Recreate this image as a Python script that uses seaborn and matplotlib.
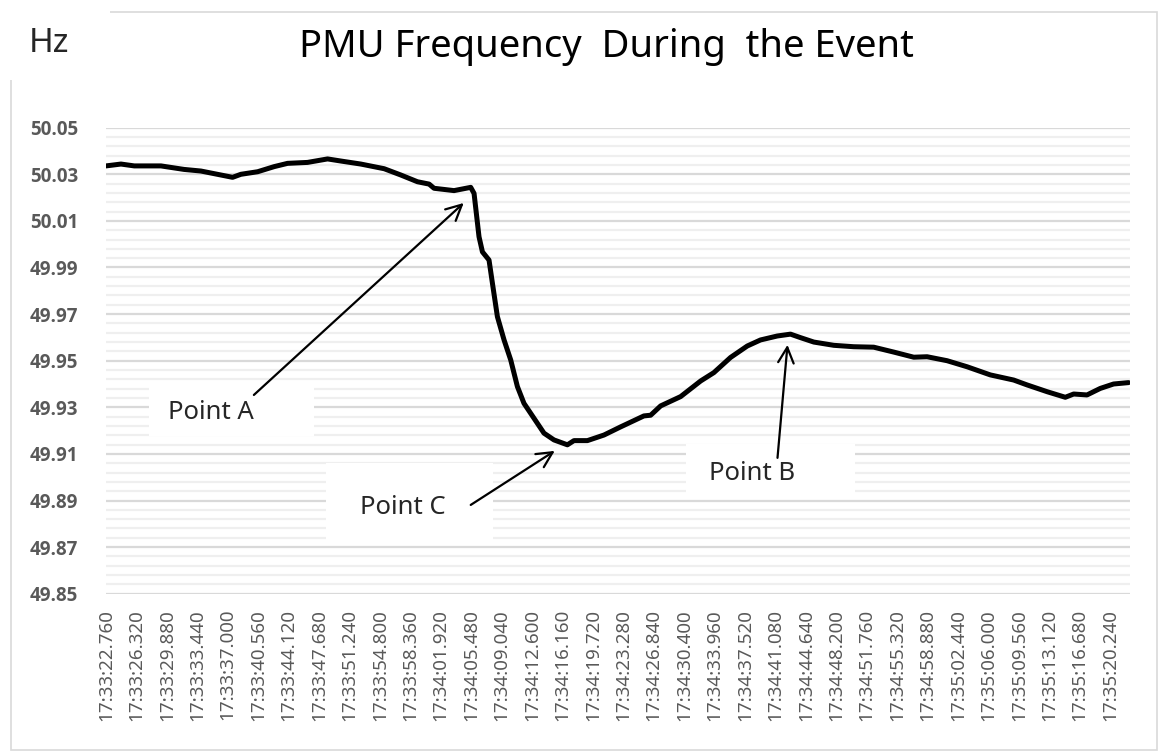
import numpy as np
import pandas as pd
import seaborn as sns
import matplotlib.pyplot as plt
from matplotlib.patches import Rectangle

sns.set_style("white")
plt.rcParams["font.family"] = ["Noto Sans", "DejaVu Sans"]

# seconds after 17:33:22.760
T_SEC = [0.0, 1.75, 3.31, 6.43, 9.12, 11.11, 13.44, 14.81, 15.78, 17.74,
         19.68, 21.24, 23.58, 25.92, 27.47, 29.81, 32.54, 34.49, 36.44, 37.80,
         38.38, 40.72, 42.67, 43.06, 43.64, 44.04, 44.81, 45.21, 45.79, 46.57,
         47.35, 48.13, 48.90, 50.07, 51.24, 52.41, 53.98, 54.75, 56.32, 58.26,
         60.21, 62.93, 63.72, 64.89, 67.23, 69.57, 71.12, 73.07, 75.02, 76.57,
         78.53, 80.08, 81.25, 82.81, 85.15, 87.48, 89.82, 92.16, 94.50, 96.06,
         98.40, 100.74, 103.46, 106.19, 107.76, 110.10, 112.23, 113.21, 114.77, 116.32,
         117.88, 119.63]
FREQ = [50.0336, 50.0344, 50.0336, 50.0336, 50.0321, 50.0314, 50.0297, 50.0287, 50.0300, 50.0311,
        50.0333, 50.0347, 50.0351, 50.0366, 50.0357, 50.0344, 50.0324, 50.0297, 50.0268, 50.0258,
        50.0240, 50.0230, 50.0244, 50.0218, 50.0032, 49.9967, 49.9932, 49.9832, 49.9689, 49.9589,
        49.9503, 49.9389, 49.9317, 49.9253, 49.9189, 49.9160, 49.9139, 49.9157, 49.9157, 49.9181,
        49.9216, 49.9263, 49.9266, 49.9306, 49.9346, 49.9413, 49.9449, 49.9514, 49.9563, 49.9589,
        49.9606, 49.9614, 49.9599, 49.9580, 49.9566, 49.9560, 49.9558, 49.9537, 49.9515, 49.9517,
        49.9500, 49.9474, 49.9439, 49.9417, 49.9396, 49.9367, 49.9343, 49.9357, 49.9353, 49.9381,
        49.9400, 49.9406]

TICK_LABELS = ["17:33:22.760", "17:33:26.320", "17:33:29.880", "17:33:33.440", "17:33:37.000",
               "17:33:40.560", "17:33:44.120", "17:33:47.680", "17:33:51.240", "17:33:54.800",
               "17:33:58.360", "17:34:01.920", "17:34:05.480", "17:34:09.040", "17:34:12.600",
               "17:34:16.160", "17:34:19.720", "17:34:23.280", "17:34:26.840", "17:34:30.400",
               "17:34:33.960", "17:34:37.520", "17:34:41.080", "17:34:44.640", "17:34:48.200",
               "17:34:51.760", "17:34:55.320", "17:34:58.880", "17:35:02.440", "17:35:06.000",
               "17:35:09.560", "17:35:13.120", "17:35:16.680", "17:35:20.240"]

Y_TICKS = [49.85, 49.87, 49.89, 49.91, 49.93, 49.95, 49.97, 49.99, 50.01, 50.03, 50.05]

df = pd.DataFrame({"t": T_SEC, "f": FREQ})
td = pd.to_timedelta(TICK_LABELS)
tick_pos = (td - td[0]).total_seconds()

fig = plt.figure(figsize=(11.58, 7.52), dpi=100)
ax = fig.add_axes([106 / 1158, 1 - 593.7 / 752, (1130 - 106) / 1158, (593.7 - 127.7) / 752])

# outer chart border, with the white "Hz" box sitting over its corner
fig.patches.append(Rectangle((11 / 1158, 2 / 752), 1146 / 1158, 738 / 752, transform=fig.transFigure,
                             fill=False, ec="#d9d9d9", lw=1.2))
fig.patches.append(Rectangle((8 / 1158, 1 - 80 / 752), 102 / 1158, 74 / 752, transform=fig.transFigure,
                             fc="white", ec="none"))

sns.lineplot(data=df, x="t", y="f", color="black", lw=3.6, ax=ax, zorder=3)

ax.set_xlim(0, 119.8)
ax.set_ylim(49.85, 50.05)
ax.set_axisbelow(True)
ax.set_yticks(Y_TICKS)
ax.set_yticklabels([f"{v:.2f}" for v in Y_TICKS], fontdict=dict(family=["Open Sans", "DejaVu Sans"],
                   weight="bold", size=13.5, color="#595959"))
ax.set_yticks(np.linspace(49.85, 50.05, 51), minor=True)
ax.grid(axis="y", which="major", color="#d9d9d9", lw=1.6)
ax.grid(axis="y", which="minor", color="#efefef", lw=1.6)
ax.set_xticks(tick_pos)
ax.set_xticklabels(TICK_LABELS, rotation=90, fontsize=13.5, color="#595959")
ax.tick_params(axis="y", which="both", length=0, pad=20)
ax.tick_params(axis="x", length=0, pad=11)
for s in ax.spines.values():
    s.set_visible(False)
ax.set_xlabel("")
ax.set_ylabel("")

fig.text(606 / 1158, 1 - 47 / 752, "PMU Frequency  During  the Event", ha="center", va="center",
         fontsize=27.5, color="black")
fig.text(49 / 1158, 1 - 44 / 752, "Hz", ha="center", va="center", fontsize=24)

# annotation boxes (white cover over the grid)
for (x0, x1, y0, y1) in [(5.03, 24.32, 49.9177, 49.9388),
                         (25.72, 45.24, 49.8731, 49.9061),
                         (67.81, 87.68, 49.8933, 49.9143)]:
    ax.add_patch(Rectangle((x0, y0), x1 - x0, y1 - y0, fc="white", ec="none", zorder=1.5))

ax.text(12.28, 49.9276, "Point A", ha="center", va="center", fontsize=18.5, zorder=4)
ax.text(34.72, 49.8868, "Point C", ha="center", va="center", fontsize=18.5, zorder=4)
ax.text(75.64, 49.9018, "Point B", ha="center", va="center", fontsize=18.5, zorder=4)

arrow = dict(arrowstyle="->", lw=1.6, color="black", mutation_scale=28, shrinkA=0, shrinkB=0)
ax.annotate("", xy=(41.85, 50.0177), xytext=(17.30, 49.9353), arrowprops=arrow, zorder=4)
ax.annotate("", xy=(52.5, 49.9113), xytext=(42.67, 49.8881), arrowprops=arrow, zorder=4)
ax.annotate("", xy=(79.73, 49.9568), xytext=(78.56, 49.9083), arrowprops=arrow, zorder=4)

fig.savefig("out.png", dpi=100)
